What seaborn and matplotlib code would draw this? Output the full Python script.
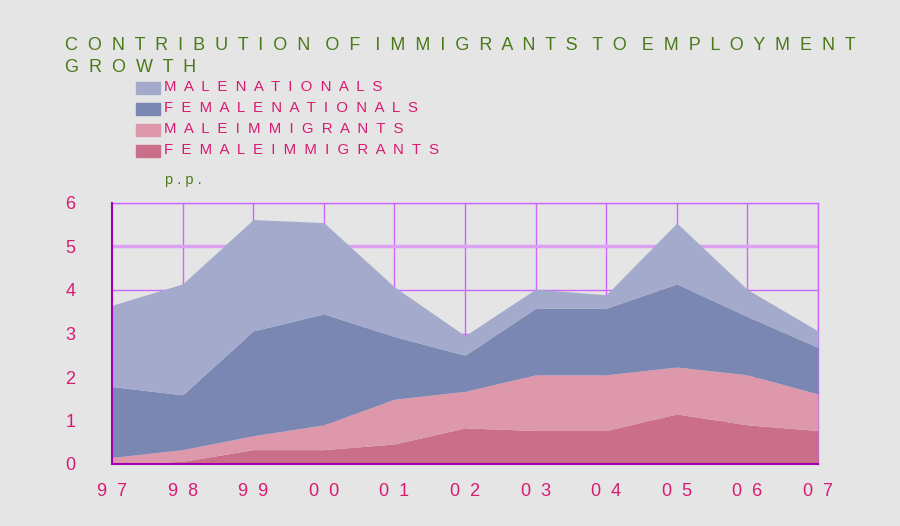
import numpy as np
import seaborn as sns
import matplotlib.pyplot as plt

# Contribution of immigrants to employment growth (p.p.), stacked
years = ["97", "98", "99", "00", "01", "02", "03", "04", "05", "06", "07"]
female_immigrants = [0.00, 0.06, 0.33, 0.33, 0.46, 0.83, 0.77, 0.77, 1.15, 0.90, 0.77]
male_immigrants = [0.15, 0.27, 0.32, 0.57, 1.03, 0.84, 1.28, 1.28, 1.08, 1.15, 0.84]
female_nationals = [1.63, 1.26, 2.41, 2.55, 1.44, 0.83, 1.53, 1.53, 1.91, 1.34, 1.07]
male_nationals = [1.87, 2.55, 2.56, 2.10, 1.14, 0.45, 0.44, 0.31, 1.40, 0.62, 0.38]

series = ["FEMALE IMMIGRANTS", "MALE IMMIGRANTS", "FEMALE NATIONALS", "MALE NATIONALS"]
colors = ["#ca6e89", "#dd98ac", "#7a87b2", "#a3aacb"]

bg = "#e5e5e5"
pink = "#d81b72"
green = "#4a7a1a"

sns.set_style("white")
plt.rcParams["font.family"] = ["Liberation Sans", "DejaVu Sans"]


def spaced(s, gap="  ", word="   "):
    return word.join(gap.join(w) for w in s.split(" "))


fig = plt.figure(figsize=(9, 5.26), dpi=100, facecolor=bg)
ax = fig.add_axes([112 / 900, 1 - 464 / 526, 706 / 900, 261 / 526])
ax.set_facecolor(bg)

x = np.arange(len(years))
ax.stackplot(x, female_immigrants, male_immigrants, female_nationals, male_nationals,
             colors=colors, zorder=3, linewidth=0)

ax.set_xlim(0, len(years) - 1)
ax.set_ylim(0, 6)
ax.set_xticks(x)
ax.set_xticklabels(["  ".join(y) for y in years])
ax.set_yticks(range(7))
for v in x[1:]:
    ax.axvline(v, color="#cc66ff", lw=1, zorder=1)
for v in [1, 2, 3, 4, 6]:
    ax.axhline(v, color="#cc66ff", lw=1, zorder=1)
ax.axhline(5, color="#dda0f4", lw=2.5, zorder=1)

for side in ["top", "right"]:
    ax.spines[side].set_color("#cc66ff")
    ax.spines[side].set_linewidth(1)
for side in ["left", "bottom"]:
    ax.spines[side].set_color("#a000b0")
    ax.spines[side].set_linewidth(1.5)
    ax.spines[side].set_zorder(4)

ax.tick_params(axis="x", length=0, pad=14, labelsize=13, labelcolor=pink)
ax.tick_params(axis="y", length=0, labelsize=13, labelcolor=pink)
for lab in ax.get_yticklabels():
    lab.set_horizontalalignment("center")
ax.yaxis.set_tick_params(pad=30)

fig.text(65 / 900, 1 - 45 / 526, spaced("CONTRIBUTION OF IMMIGRANTS TO EMPLOYMENT"),
         color=green, fontsize=13, va="center", ha="left")
fig.text(65 / 900, 1 - 67 / 526, spaced("GROWTH"), color=green, fontsize=13,
         va="center", ha="left")

legend_order = [3, 2, 1, 0]
ys = [88, 109, 130, 151]
for i, yy in zip(legend_order, ys):
    fig.patches.append(plt.Rectangle((136 / 900, 1 - (yy + 6) / 526), 24 / 900, 12 / 526,
                                     transform=fig.transFigure, color=colors[i]))
    fig.text(164 / 900, 1 - (yy - 1) / 526, spaced(series[i], word="  "), color=pink,
             fontsize=10.8, va="center", ha="left")
fig.text(165 / 900, 1 - 180 / 526, "p . p .", color=green, fontsize=10.5, va="center", ha="left")

fig.savefig("out.png", dpi=100, facecolor=bg)
